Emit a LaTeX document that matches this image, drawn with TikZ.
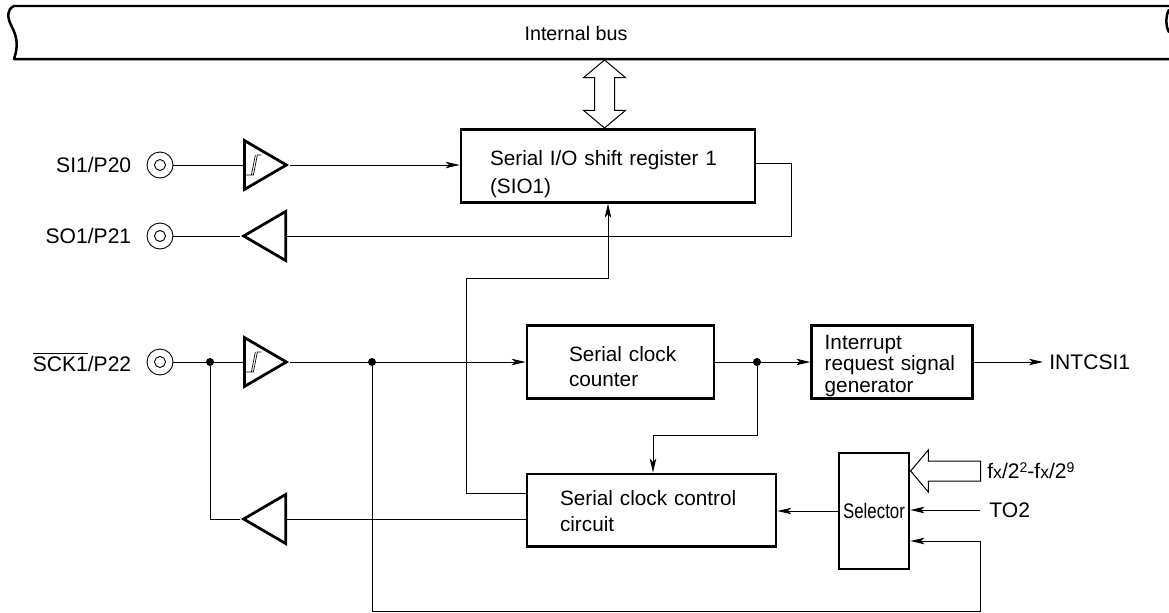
\documentclass[tikz,border=0pt]{standalone}
\usepackage{fontspec}
\setmainfont{Liberation Sans}
\usetikzlibrary{positioning, arrows.meta, shapes.geometric, shapes.arrows}
\tikzset{
    block/.style={rectangle, draw=black, line width=0.055cm, fill=white, inner xsep=0pt, inner ysep=0pt, font=\fontsize{11.8}{15.2}\selectfont, minimum height=1.45cm},
    inset/.style 2 args={execute at begin node={\leftskip=#1\relax\rule{0pt}{#2}}},
    selbox/.style={rectangle, draw=black, line width=0.055cm, fill=white, inner sep=0pt, minimum width=1.4cm, minimum height=2.32cm, font=\fontsize{12}{15}\selectfont},
    port/.style={circle, draw=black, line width=0.018cm, inner sep=0pt, minimum size=0.52cm, path picture={\draw[line width=0.018cm] (path picture bounding box.center) circle (0.11cm);}},
    buf/.style={isosceles triangle, isosceles triangle stretches, draw=black, line width=0.055cm, fill=white, inner sep=0pt, minimum height=0.84cm, minimum width=0.98cm},
    bufleft/.style={buf, shape border rotate=180},
    schmitt/.style={buf, path picture={\draw[line width=0.014cm] ([shift={(1,10)}]path picture bounding box.west) -- ([shift={(9,10)}]path picture bounding box.west) -- ([shift={(13,-10)}]path picture bounding box.west) -- ([shift={(17,-10)}]path picture bounding box.west) ([shift={(7,10)}]path picture bounding box.west) -- ([shift={(11,-10)}]path picture bounding box.west);}},
    dot/.style={circle, fill=black, inner sep=0pt, minimum size=0.16cm},
    tag/.style={inner sep=0pt, font=\fontsize{12}{15}\selectfont},
    wire/.style={line width=0.02cm},
    arrow/.style={wire, -{Stealth[length=0.28cm, width=0.13cm, inset=0.07cm]}},
    busline/.style={line width=0.05cm, line cap=round, line join=round},
    fat/.style={draw=black, line width=0.02cm, fill=white, inner sep=0.19cm}
}
\newcommand{\sw}[1]{\raisebox{0.55ex}{\fontsize{8}{8}\selectfont #1}}
\begin{document}
\begin{tikzpicture}[x=0.02cm, y=-0.02cm]
    \useasboundingbox (0,0) rectangle (1169,612);

    % Internal bus
    \draw[busline] (1169,6) -- (14,6) .. controls (7,9) and (7,17) .. (11,25) .. controls (18,38) and (18,47) .. (14,59) -- (1169,59);
    \draw[busline] (1169,10) .. controls (1165.5,15) and (1165.5,27) .. (1169,32);
    \node[tag, font=\fontsize{11.2}{14}\selectfont] (Bus) at (576,33) {Internal bus};
    \node[double arrow, fat, shape border rotate=90, minimum height=1.36cm, double arrow head extend=0.22cm, double arrow head indent=0cm, double arrow tip angle=100] (BusArrow) at (604.5,94) {};

    % Shift register
    \node[block, minimum width=5.88cm, text width=5.88cm, inset={0.58cm}{0.63cm}, font=\fontsize{11.8}{15.9}\selectfont] (Sio) at (608,166) {Serial I/O shift register 1\\(SIO1)};
    \node[port] (Si) at (160,165) {};
    \node[tag, left=0.3cm of Si] (SiLabel) {SI1/P20};
    \node[schmitt, anchor=lower side] (SiBuf) at (243,165) {};
    \draw[wire] (Si) -- (SiBuf.lower side);
    \draw[arrow] (SiBuf.apex) -- (Sio.west |- SiBuf.apex);

    \node[port] (So) at (160,236) {};
    \node[tag, left=0.3cm of So] (SoLabel) {SO1/P21};
    \node[bufleft, anchor=lower side] (SoBuf) at (287,236) {};
    \coordinate (SoTurn) at (791,236);
    \draw[wire] (So) -- (SoBuf.apex);
    \draw[wire] (Sio.east |- 0,163) -| (SoTurn) -- (SoBuf.lower side);

    % Clock input
    \node[port] (Sck) at (160,362) {};
    \node[tag, left=0.3cm of Sck] (SckLabel) {$\overline{\mbox{SCK1}}$/P22};
    \node[schmitt, anchor=lower side] (SckBuf) at (243,362) {};
    \node[dot] (DotIn) at (210,362) {};
    \node[dot] (DotClk) at (372,362) {};
    \draw[wire] (Sck) -- (SckBuf.lower side);

    % Counter and interrupt
    \node[block, minimum width=3.74cm, text width=3.74cm, inset={0.84cm}{0.47cm}, font=\fontsize{11.8}{14.4}\selectfont] (Counter) at (620.5,362) {Serial clock\\counter};
    \node[block, right=1.9cm of Counter, minimum width=3.22cm, text width=3.22cm, inset={0.26cm}{0.44cm}, font=\fontsize{11.8}{12.2}\selectfont] (Intr) {Interrupt\\request signal\\generator};
    \node[tag, anchor=west, inner xsep=0.12cm] (Intcsi) at (1043,362) {INTCSI1};
    \node[dot] (DotCnt) at (757,362) {};
    \draw[arrow] (SckBuf.apex) -- (Counter.west);
    \draw[arrow] (Counter.east) -- (Intr.west);
    \draw[arrow] (Intr.east) -- (Intcsi.west);

    % Control circuit
    \node[block, below=1.46cm of Counter.south west, anchor=north west, minimum width=4.98cm, text width=4.98cm, inset={0.66cm}{0.33cm}] (Control) {Serial clock control\\circuit};
    \node[bufleft, anchor=lower side] (CtlBuf) at (287,519) {};
    \coordinate (CntTurn) at (653,435);
    \coordinate (LoopTurn) at (466,278);
    \draw[wire] (DotIn) |- (CtlBuf.apex);
    \draw[wire] (Control.west |- CtlBuf) -- (CtlBuf.lower side);
    \draw[arrow] (DotCnt) |- (CntTurn) -- (CntTurn |- Control.north);
    \draw[arrow] (Control.west |- 0,493) -| (LoopTurn) -| (Sio.south);

    % Selector
    \node[selbox] (Selector) at (874,511) {\scalebox{0.8}[1]{Selector}};
    \node[single arrow, fat, shape border rotate=180, minimum height=1.4cm, single arrow head extend=0.22cm, single arrow head indent=0cm, single arrow tip angle=100, anchor=tip] (FxArrow) at (910,471) {};
    \node[tag, anchor=west] (Fx) at (987,471) {f{\fontsize{10}{10}\selectfont x}/2\sw{2}-f{\fontsize{10}{10}\selectfont x}/2\sw{9}};
    \node[tag, anchor=west] (ToTwo) at (989,510) {TO2};
    \coordinate (ToTail) at (980,510);
    \coordinate (FbTurn) at (980,611);
    \coordinate (FbIn) at (980,541);
    \draw[arrow] (ToTail) -- (ToTail -| Selector.east);
    \draw[arrow] (Selector.west) -- (Selector.west -| Control.east);
    \draw[arrow] (DotClk) |- (FbTurn) -- (FbIn) -- (FbIn -| Selector.east);
\end{tikzpicture}
\end{document}
